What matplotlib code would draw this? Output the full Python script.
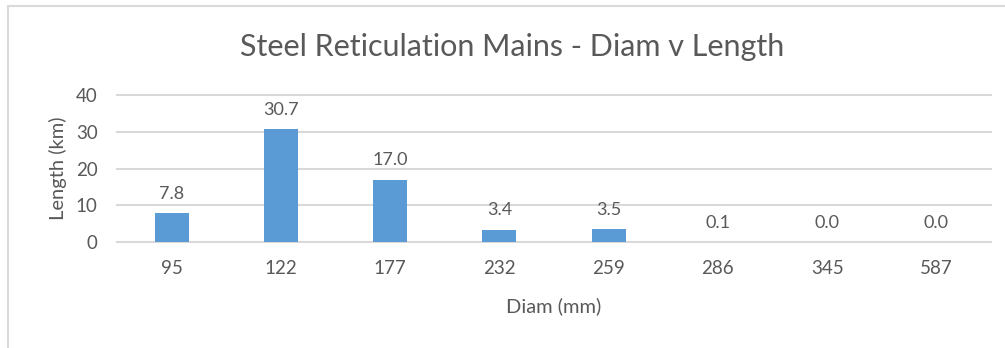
import matplotlib.pyplot as plt
from matplotlib.patches import Rectangle
import numpy as np

# Steel reticulation mains: total length per pipe diameter
diameters = ["95", "122", "177", "232", "259", "286", "345", "587"]
lengths = [7.8, 30.7, 17.0, 3.4, 3.5, 0.1, 0.0, 0.0]

plt.rcParams['font.family'] = ['Lato', 'DejaVu Sans']
text_col = '#595959'
bar_col = '#5B9BD5'
grid_col = '#D9D9D9'

fig = plt.figure(figsize=(10.05, 3.48), dpi=100)
ax = fig.add_axes([0.1164, 0.3046, 0.8697, 0.4224])

x = np.arange(len(diameters))
ax.bar(x, lengths, width=0.31, color=bar_col, zorder=3)

for xi, v in zip(x, lengths):
    ax.annotate(f"{v:.1f}", (xi, v), xytext=(0, 8), textcoords='offset points',
                ha='center', va='bottom', fontsize=13, color=text_col)

ax.set_xlim(-0.5, len(diameters) - 0.5)
ax.set_ylim(0, 40)
ax.set_yticks([0, 10, 20, 30, 40])
ax.set_xticks(x)
ax.set_xticklabels(diameters)
ax.yaxis.grid(True, color=grid_col, linewidth=1.5, zorder=0)
for line in ax.get_ygridlines():
    line.set_clip_on(False)
ax.tick_params(axis='both', length=0, labelsize=13.5, labelcolor=text_col)
ax.tick_params(axis='y', pad=14)
ax.tick_params(axis='x', pad=13)
for s in ax.spines.values():
    s.set_visible(False)

ax.set_xlabel("Diam (mm)", fontsize=14.5, color=text_col, va='center')
ax.xaxis.set_label_coords(0.5, -0.44)
# axis title placed beside the tick labels
ax.text(-0.068, 0.5, "Length (km)", transform=ax.transAxes, rotation=90,
        ha='center', va='center', fontsize=14.5, color=text_col)
fig.suptitle("Steel Reticulation Mains - Diam v Length", x=0.51, y=0.905,
             fontsize=22, color=text_col)

# light chart frame
fig.patches.append(Rectangle((8 / 1005, -0.1), 1.2, 1.1 - 6 / 348,
                             transform=fig.transFigure, fill=False,
                             edgecolor=grid_col, linewidth=1.5))

fig.savefig("out.png", dpi=100)
